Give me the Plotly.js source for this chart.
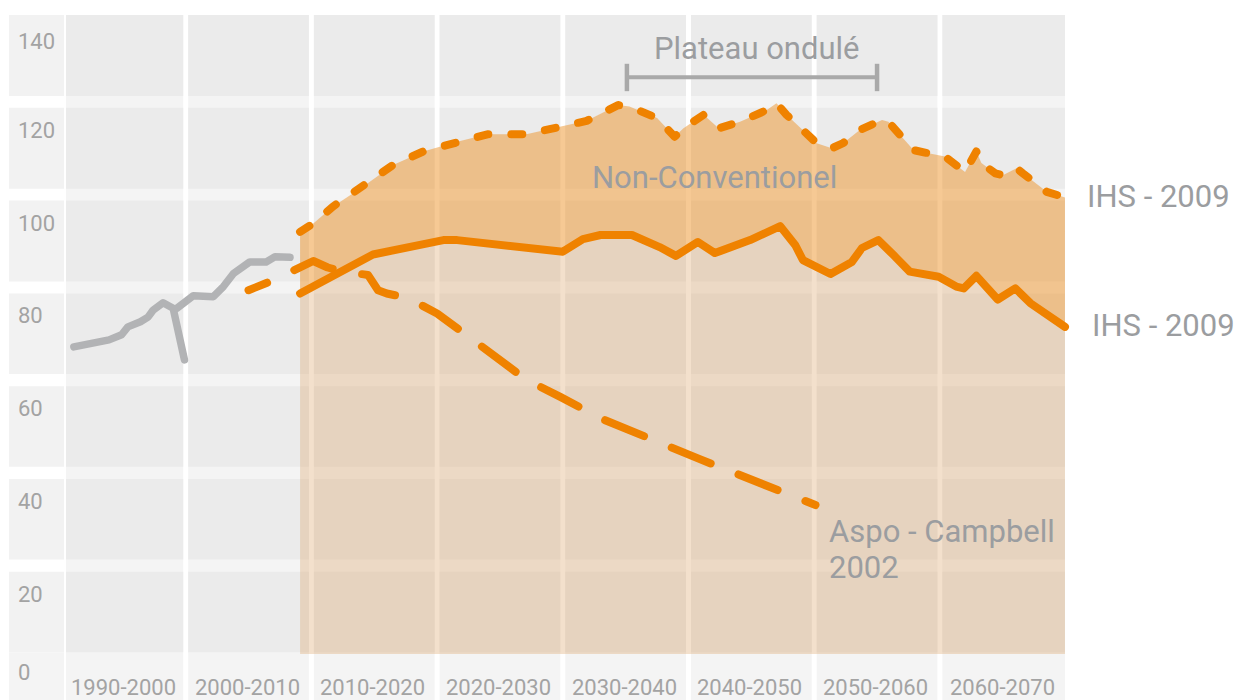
<!DOCTYPE html>
<html>
<head>
<meta charset="utf-8">
<script src="https://cdn.plot.ly/plotly-3.0.1.min.js"></script>
<style>
  html, body { margin: 0; padding: 0; background: #ffffff; }
  #chart { width: 1237px; height: 700px; }
</style>
</head>
<body>
<div id="chart"></div>
<script>
// ---------------- DATA ----------------
const decades = ['1990-2000','2000-2010','2010-2020','2020-2030','2030-2040','2040-2050','2050-2060','2060-2070'];
const yTickLabels = ['140','120','100','80','60','40','20','0'];

// Historical production (gray), with a break
const histYears = [1991.1,1992.6,1993.9,1994.9,1995.4,1996.4,1997.0,1997.4,1998.2,1999.0,1999.9,null,1999.3,2000.6,2002.2,2003.0,2003.8,2005.1,2006.4,2007.1,2008.3];
const histVals  = [66.2,66.8,67.7,68.8,70.5,71.6,72.6,74.1,75.7,74.5,63.4,null,74.5,77.2,77.0,79.2,82.0,84.5,84.5,85.6,85.5];

// Aspo - Campbell 2002 (dashed)
const aspoYears = [2005.0,2007.0,2010.15,2011.3,2012.5,2014.5,2015.3,2016.0,2017.7,2020.0,2022.5,2023.2,2027.1,2029.8,2033.0,2040.9,2050.1];
const aspoVals  = [78.4,80.6,84.7,83.3,82.4,81.7,78.4,77.7,76.7,73.4,68.4,67.0,59.1,55.4,50.8,42.0,32.1];

// IHS 2009 - conventional (solid)
const ihsConvYears = [2009.1,2014.9,2020.5,2021.6,2030.0,2031.6,2033.0,2035.5,2037.7,2039.0,2040.75,2042.1,2044.9,2047.3,2048.5,2049.1,2051.3,2053.0,2053.8,2055.1,2056.3,2057.6,2059.9,2061.3,2061.9,2062.9,2064.6,2066.0,2067.2,2068.8,2069.95];
const ihsConvVals  = [77.7,86.1,89.2,89.2,86.7,89.4,90.3,90.3,87.7,85.8,88.8,86.4,89.2,92.2,88.1,84.9,81.9,84.5,87.5,89.2,86.0,82.4,81.3,79.2,78.8,81.5,76.4,78.8,75.6,72.4,70.5];

// IHS 2009 - total incl. non-conventional (dashed)
const ihsTotalYears = [2009.1,2010.15,2011.7,2014.1,2016.5,2018.9,2021.6,2024.0,2027.1,2029.8,2031.9,2034.4,2035.3,2037.5,2038.9,2039.6,2041.2,2042.4,2044.1,2046.2,2047.0,2047.8,2050.2,2051.4,2052.3,2053.6,2055.4,2055.9,2057.9,2059.1,2060.4,2062.0,2062.9,2063.3,2064.4,2065.0,2066.1,2066.6,2068.5,2069.95];
const ihsTotalVals  = [91.0,92.8,96.4,100.7,105.4,108.3,110.4,112.0,112.0,113.6,114.9,118.3,118.0,115.5,111.5,113.3,116.2,113.3,114.7,117.2,118.7,116.2,110.1,109.0,110.1,112.9,115.1,114.7,108.6,107.9,107.2,103.9,108.3,105.8,103.6,103.2,104.7,103.6,99.6,98.4];

// ---------------- LAYOUT HELPERS ----------------
const W = 1237, H = 700;
const px = x => x / W;
const py = y => 1 - y / H;
const ORANGE = '#ef8200';
const GRAY_LINE = '#b2b3b5';
const TEXT = '#9b9da0';
const FONT = 'Roboto, "Open Sans", sans-serif';

const gapStart = k => 183.2 + 125.7 * k;
const colStart = k => (k === 0 ? 66 : gapStart(k - 1) + 5);
const colEnd = k => (k === decades.length - 1 ? 1065 : gapStart(k));
const rowStart = r => 15 + 92.8 * r;
const rowEnd = r => 96 + 92.7 * r;
const NROWS = 7;

const shapes = [];
// label column cells
for (let r = 0; r < NROWS; r++) {
  shapes.push({type:'rect', xref:'paper', yref:'paper', layer:'below', line:{width:0},
    x0:px(9), x1:px(64), y0:py(rowEnd(r)), y1:py(rowStart(r)), fillcolor:'#f2f2f2'});
}
shapes.push({type:'rect', xref:'paper', yref:'paper', layer:'below', line:{width:0},
  x0:px(9), x1:px(64), y0:py(700), y1:py(rowEnd(NROWS-1)), fillcolor:'#f4f4f4'});
// data columns
for (let k = 0; k < decades.length; k++) {
  shapes.push({type:'rect', xref:'paper', yref:'paper', layer:'below', line:{width:0},
    x0:px(colStart(k)), x1:px(colEnd(k)), y0:py(700), y1:py(15), fillcolor:'#f4f4f4'});
  for (let r = 0; r < NROWS; r++) {
    shapes.push({type:'rect', xref:'paper', yref:'paper', layer:'below', line:{width:0},
      x0:px(colStart(k)), x1:px(colEnd(k)), y0:py(rowEnd(r)), y1:py(rowStart(r)), fillcolor:'#ebebeb'});
  }
}
// "Plateau ondulé" bracket (data coordinates)
const BR = '#a9a9a9';
shapes.push({type:'line', xref:'x', yref:'y', x0:2035.1, x1:2055.0, y0:124.3, y1:124.3, line:{color:BR, width:4}});
shapes.push({type:'line', xref:'x', yref:'y', x0:2035.1, x1:2035.1, y0:121.3, y1:127.2, line:{color:BR, width:4.5}});
shapes.push({type:'line', xref:'x', yref:'y', x0:2055.0, x1:2055.0, y0:121.3, y1:127.2, line:{color:BR, width:4.5}});

const annotations = [];
// y labels
yTickLabels.forEach((t, i) => {
  const yc = i === 0 ? 41 : (i < NROWS ? rowStart(i) + 22.5 : 672.5);
  annotations.push({text:t, xref:'paper', yref:'paper', x:px(16), y:py(yc), xanchor:'left', yanchor:'middle',
    showarrow:false, font:{family:FONT, size:22, color:'#a3a3a3'}});
});
// x labels
decades.forEach((t, k) => {
  annotations.push({text:t, xref:'paper', yref:'paper', x:px((colStart(k) + colEnd(k)) / 2 - 1.5), y:py(687),
    xanchor:'center', yanchor:'middle', showarrow:false, font:{family:FONT, size:22, color:'#a3a3a3'}});
});
const big = {family:FONT, size:31, color:TEXT};
annotations.push({text:'Plateau ondulé', xref:'paper', yref:'paper', x:px(757), y:py(48), xanchor:'center', yanchor:'middle', showarrow:false, font:big});
annotations.push({text:'Non-Conventionel', xref:'paper', yref:'paper', x:px(714), y:py(177), xanchor:'center', yanchor:'middle', showarrow:false, font:big});
annotations.push({text:'IHS - 2009', xref:'paper', yref:'paper', x:px(1085), y:py(197), xanchor:'left', yanchor:'middle', showarrow:false, font:big});
annotations.push({text:'IHS - 2009', xref:'paper', yref:'paper', x:px(1090), y:py(325), xanchor:'left', yanchor:'middle', showarrow:false, font:big});
annotations.push({text:'Aspo - Campbell', xref:'paper', yref:'paper', x:px(827), y:py(531.5), xanchor:'left', yanchor:'middle', align:'left', showarrow:false, font:big});
annotations.push({text:'2002', xref:'paper', yref:'paper', x:px(827), y:py(567), xanchor:'left', yanchor:'middle', align:'left', showarrow:false, font:big});

// ---------------- TRACES ----------------
const traces = [
  {x: ihsConvYears, y: ihsConvVals, mode:'lines', fill:'tozeroy', fillcolor:'rgba(221,166,109,0.35)',
   line:{width:0, color:'rgba(0,0,0,0)'}, hoverinfo:'skip', showlegend:false},
  {x: ihsTotalYears, y: ihsTotalVals, mode:'lines', fill:'tonexty', fillcolor:'rgba(237,147,41,0.5)',
   line:{width:0, color:'rgba(0,0,0,0)'}, hoverinfo:'skip', showlegend:false},
  {x: histYears, y: histVals, mode:'lines', connectgaps:false, line:{color:GRAY_LINE, width:7.5}, showlegend:false},
  {x: aspoYears, y: aspoVals, mode:'lines', line:{color:ORANGE, width:8, dash:'42px,30px'}, showlegend:false},
  {x: ihsConvYears, y: ihsConvVals, mode:'lines', line:{color:ORANGE, width:8}, showlegend:false},
  {x: ihsTotalYears, y: ihsTotalVals, mode:'lines', line:{color:ORANGE, width:8, dash:'11px,23px'}, showlegend:false}
];

const layout = {
  width: W, height: H,
  margin: {l:0, r:0, t:0, b:0, pad:0},
  paper_bgcolor: '#ffffff', plot_bgcolor: 'rgba(0,0,0,0)',
  showlegend: false,
  xaxis: {range:[2000 - 185.7/12.57, 2000 + (W - 185.7)/12.57], visible:false, fixedrange:true},
  yaxis: {range:[(654 - H)/4.64, 654/4.64], visible:false, fixedrange:true},
  shapes: shapes,
  annotations: annotations
};

Plotly.newPlot('chart', traces, layout, {displayModeBar:false, staticPlot:true}).then(() => {
  document.querySelectorAll('.scatterlayer path.js-line').forEach(p => {
    p.style.strokeLinecap = 'round';
    p.style.strokeLinejoin = 'round';
  });
  const tr = document.querySelectorAll('.scatterlayer .trace');
  if (tr[3]) tr[3].querySelectorAll('path.js-line').forEach(p => { p.style.strokeDashoffset = '22px'; });
});
</script>
</body>
</html>
